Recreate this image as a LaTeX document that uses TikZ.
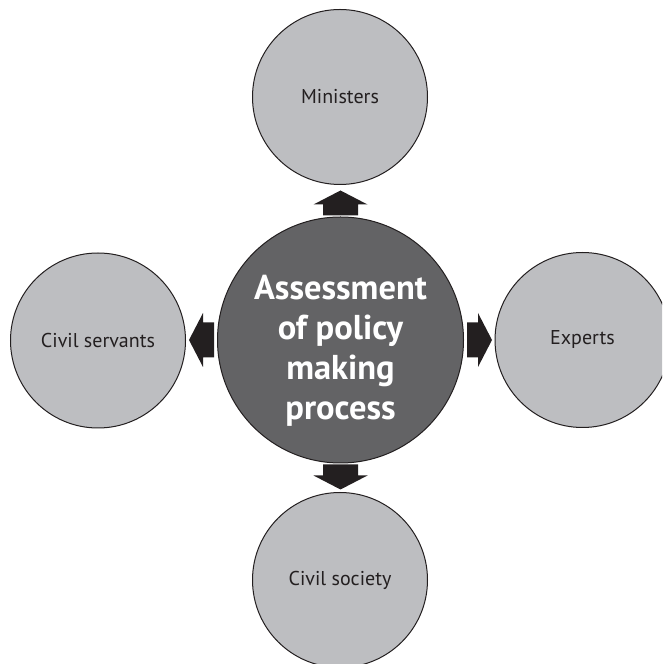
\documentclass[tikz,border=0pt]{standalone}
\usepackage{fontspec}
\setmainfont{PT Sans}
\usetikzlibrary{calc}
\definecolor{outerfill}{HTML}{BDBEC1}
\definecolor{centerfill}{HTML}{636365}
\definecolor{ink}{HTML}{231F20}
\tikzset{
  outer/.style={circle, draw=ink, line width=1pt, fill=outerfill, minimum size=175pt, inner sep=0pt,
    text=ink, font=\fontsize{20}{24}\selectfont},
  centre/.style={circle, draw=ink, line width=1pt, fill=centerfill, minimum size=246pt, inner sep=0pt},
  centretext/.style={text=white, align=center, inner sep=0pt, font=\bfseries\fontsize{34.5}{40}\selectfont},
  blockarrow/.style={fill=ink}
}
\newcommand\blockarr[2]{%
  \fill[blockarrow, shift={#1}, rotate=#2]
    (0,-17.5) -- (11,-17.5) -- (11,-27) -- (25,0) -- (11,27) -- (11,17.5) -- (0,17.5) -- cycle;}
\begin{document}
\begin{tikzpicture}[x=1pt,y=1pt]
\useasboundingbox (0,0) rectangle (662,664);
\clip (0,0) rectangle (662,664);
\node[centre] (c) at (340.5,324) {};
\node[centretext] (ct) at ($(c)+(0,-11)$) {Assessment\\of policy\\making\\process};
\node[outer] (m) at (340,567) {Ministers};
\node[outer] (cs) at (98,323.5) {Civil servants};
\node[outer] (e) at (582.5,324) {Experts};
\node[outer] (so) at (340,84) {Civil society};
\blockarr{($(c.north)+(0,1)$)}{90}
\blockarr{($(c.west)+(-3,0)$)}{180}
\blockarr{($(c.east)+(3,0)$)}{0}
\blockarr{($(c.south)+(0,-1)$)}{270}
\end{tikzpicture}
\end{document}
